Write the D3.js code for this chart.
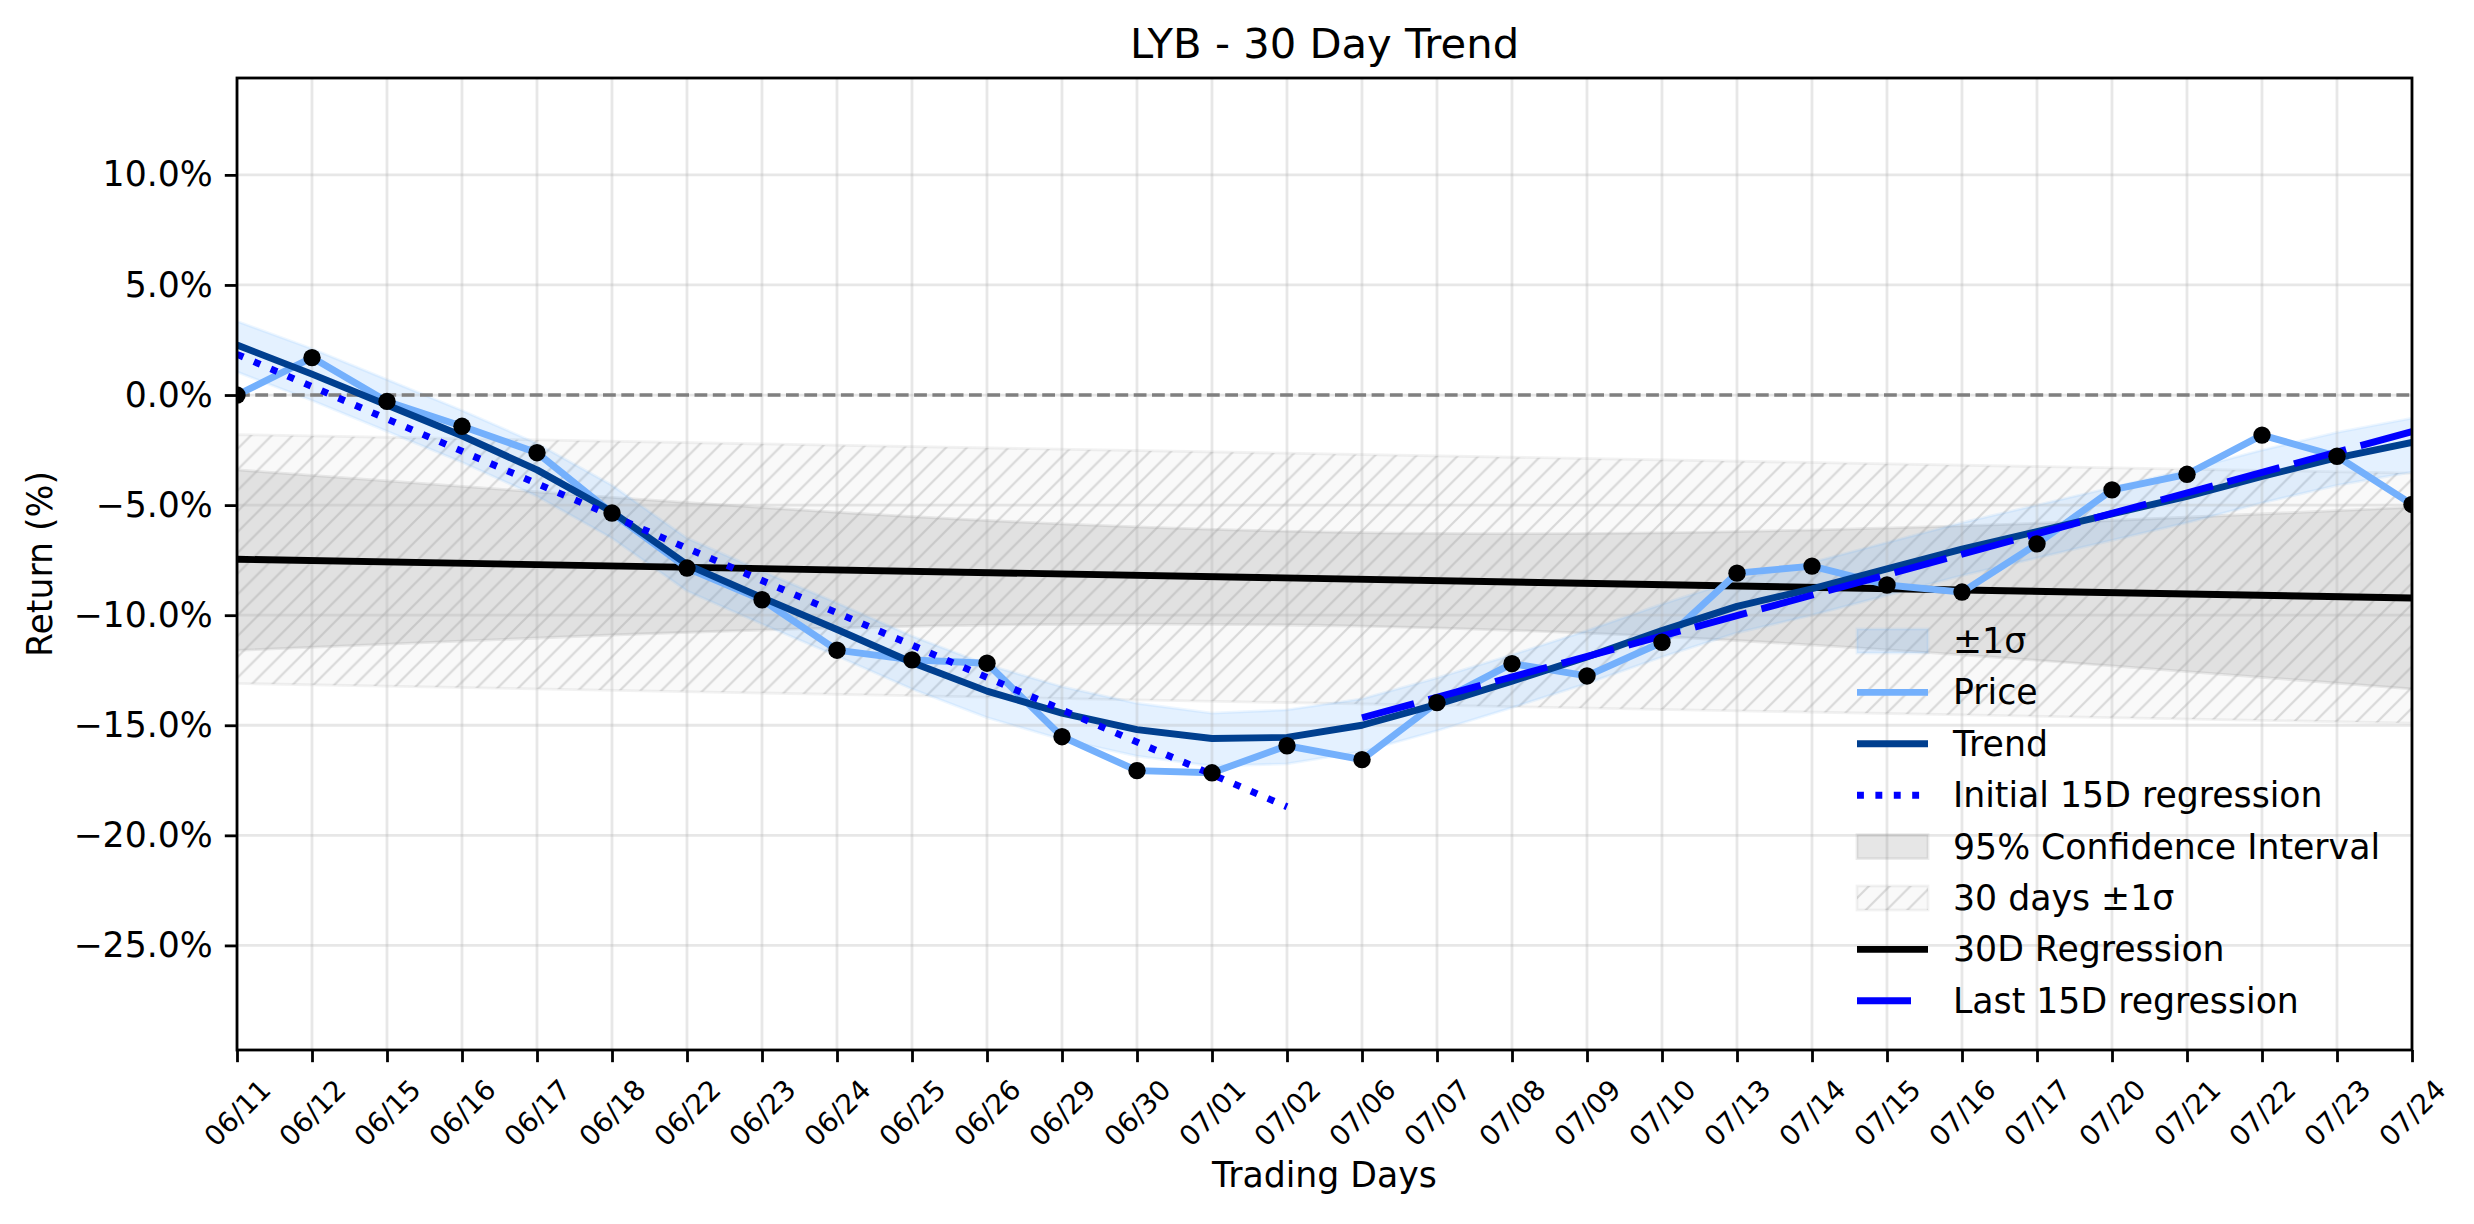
<!DOCTYPE html>
<html lang="en">
<head>
<meta charset="utf-8">
<title>LYB - 30 Day Trend</title>
<script src="https://d3js.org/d3.v7.min.js"></script>
<style>
  body { margin: 0; background: #fff; }
  svg text { font-family: "DejaVu Sans", sans-serif; fill: #000; }
</style>
</head>
<body>
<script>
// ---- data (returns in %) ----
var dates = ["06/11","06/12","06/15","06/16","06/17","06/18","06/22","06/23","06/24","06/25",
             "06/26","06/29","06/30","07/01","07/02","07/06","07/07","07/08","07/09","07/10",
             "07/13","07/14","07/15","07/16","07/17","07/20","07/21","07/22","07/23","07/24"];

var price = [0.0, 1.70, -0.29, -1.42, -2.62, -5.36, -7.86, -9.30, -11.59, -12.03,
             -12.18, -15.52, -17.06, -17.16, -15.93, -16.56, -13.97, -12.20, -12.76, -11.23,
             -8.09, -7.77, -8.63, -8.95, -6.76, -4.31, -3.60, -1.82, -2.78, -4.97];

var trend = [2.27, 0.95, -0.45, -1.85, -3.40, -5.30, -7.70, -9.20, -10.65, -12.15,
             -13.45, -14.45, -15.20, -15.60, -15.55, -15.00, -14.05, -13.00, -11.90, -10.70,
             -9.60, -8.80, -7.90, -7.00, -6.20, -5.40, -4.60, -3.70, -2.85, -2.15];

var sigmaUpper = [3.35, 2.10, 0.70, -0.70, -2.20, -4.10, -6.50, -8.00, -9.45, -10.95,
                  -12.25, -13.25, -14.00, -14.45, -14.30, -13.80, -12.85, -11.80, -10.70, -9.50,
                  -8.40, -7.60, -6.70, -5.80, -5.00, -4.20, -3.40, -2.50, -1.70, -1.05];
var sigmaLower = [1.05, -0.25, -1.65, -3.05, -4.60, -6.50, -8.90, -10.40, -11.85, -13.35,
                  -14.65, -15.65, -16.40, -16.85, -16.75, -16.20, -15.25, -14.20, -13.10, -11.90,
                  -10.80, -10.00, -9.10, -8.20, -7.40, -6.60, -5.80, -4.90, -4.10, -3.50];

// 95% confidence interval of the 30D regression
var ciIdx = [0, 5, 10, 15, 20, 25, 29];
var ciUpper = [-3.40, -4.65, -5.70, -6.25, -6.20, -5.70, -5.10];
var ciLower = [-11.60, -10.90, -10.45, -10.50, -11.15, -12.30, -13.35];

// 30 days +-1 sigma band
var bandIdx = [0, 29];
var bandUpper = [-1.80, -3.55];
var bandLower = [-13.10, -14.90];

// regressions (start/end points)
var reg30Idx = [0, 29], reg30 = [-7.46, -9.22];
var initIdx = [0, 14], initReg = [1.85, -18.70];
var lastIdx = [15, 29], lastReg = [-14.66, -1.66];

var yTicks = [10, 5, 0, -5, -10, -15, -20, -25];

var legendLabels = ["\u00b11\u03c3", "Price", "Trend", "Initial 15D regression",
                    "95% Confidence Interval", "30 days \u00b11\u03c3", "30D Regression", "Last 15D regression"];

// ---- layout ----
var W = 2474, H = 1224;
var pLeft = 237, pRight = 2412, pTop = 78, pBottom = 1050;

var svg = d3.select("body").append("svg")
    .attr("width", W).attr("height", H);

var x = d3.scaleLinear().domain([0, dates.length - 1]).range([pLeft, pRight]);
var y = d3.scaleLinear().domain([-29.75, 14.4]).range([pBottom, pTop]);

var defs = svg.append("defs");
defs.append("clipPath").attr("id", "plotclip")
  .append("rect").attr("x", pLeft).attr("y", pTop).attr("width", pRight - pLeft).attr("height", pBottom - pTop);

// hatch pattern '//'
var hs = 20.8;
var pat = defs.append("pattern").attr("id", "hatch")
    .attr("patternUnits", "userSpaceOnUse").attr("width", hs).attr("height", hs);
pat.append("path")
    .attr("d", "M0," + hs + " L" + hs + ",0 M" + (-hs / 2) + "," + (hs / 2) + " L" + (hs / 2) + "," + (-hs / 2) +
               " M" + (hs / 2) + "," + (hs * 1.5) + " L" + (hs * 1.5) + "," + (hs / 2))
    .attr("stroke", "#999").attr("stroke-opacity", 0.35).attr("stroke-width", 2.2);

var plot = svg.append("g").attr("clip-path", "url(#plotclip)");

function areaOf(idx, up, lo, curve) {
  return d3.area()
    .x(function(d) { return x(idx[d]); })
    .y0(function(d) { return y(lo[d]); })
    .y1(function(d) { return y(up[d]); })
    .curve(curve || d3.curveLinear)(d3.range(idx.length));
}
function lineOf(idx, vals) {
  return d3.line()
    .x(function(d) { return x(idx[d]); })
    .y(function(d) { return y(vals[d]); })(d3.range(idx.length));
}
var allIdx = dates.map(function(d, i) { return i; });

// 30 days band (background)
plot.append("path").attr("d", areaOf(bandIdx, bandUpper, bandLower))
  .attr("fill", "#808080").attr("fill-opacity", 0.05)
  .attr("stroke", "#808080").attr("stroke-opacity", 0.1).attr("stroke-width", 2.8);

// confidence interval
plot.append("path").attr("d", areaOf(ciIdx, ciUpper, ciLower, d3.curveNatural))
  .attr("fill", "#808080").attr("fill-opacity", 0.2)
  .attr("stroke", "#808080").attr("stroke-opacity", 0.15).attr("stroke-width", 2.8);

// hatch lines on top of band
plot.append("path").attr("d", areaOf(bandIdx, bandUpper, bandLower))
  .attr("fill", "url(#hatch)");

// +-1 sigma band around trend
plot.append("path").attr("d", areaOf(allIdx, sigmaUpper, sigmaLower))
  .attr("fill", "#4da3ff").attr("fill-opacity", 0.15)
  .attr("stroke", "#4da3ff").attr("stroke-opacity", 0.1).attr("stroke-width", 2.8);

// grid
var grid = plot.append("g");
grid.selectAll(".vg").data(allIdx).enter().append("line")
  .attr("x1", function(d) { return x(d); }).attr("x2", function(d) { return x(d); })
  .attr("y1", pTop).attr("y2", pBottom)
  .attr("stroke", "#b0b0b0").attr("stroke-opacity", 0.3).attr("stroke-width", 2.8);
grid.selectAll(".hg").data(yTicks).enter().append("line")
  .attr("x1", pLeft).attr("x2", pRight)
  .attr("y1", function(d) { return y(d); }).attr("y2", function(d) { return y(d); })
  .attr("stroke", "#b0b0b0").attr("stroke-opacity", 0.3).attr("stroke-width", 2.8);

// zero line
plot.append("line").attr("x1", pLeft).attr("x2", pRight).attr("y1", y(0)).attr("y2", y(0))
  .attr("stroke", "#808080").attr("stroke-width", 3.5).attr("stroke-dasharray", "12.8 5.5");

// 30D regression
plot.append("path").attr("d", lineOf(reg30Idx, reg30))
  .attr("fill", "none").attr("stroke", "#000").attr("stroke-width", 6.9);

// price
plot.append("path").attr("d", lineOf(allIdx, price))
  .attr("fill", "none").attr("stroke", "#74b0fc").attr("stroke-width", 6.9).attr("stroke-linejoin", "round");

// trend
plot.append("path").attr("d", lineOf(allIdx, trend))
  .attr("fill", "none").attr("stroke", "#003f8f").attr("stroke-width", 6.9).attr("stroke-linejoin", "round");

// initial 15D regression (dotted)
plot.append("path").attr("d", lineOf(initIdx, initReg))
  .attr("fill", "none").attr("stroke", "#0000ff").attr("stroke-width", 6.9).attr("stroke-dasharray", "6.9 11.5");

// last 15D regression (dashed)
plot.append("path").attr("d", lineOf(lastIdx, lastReg))
  .attr("fill", "none").attr("stroke", "#0000ff").attr("stroke-width", 6.9).attr("stroke-dasharray", "54 15");

// price dots
plot.selectAll(".dot").data(allIdx).enter().append("circle")
  .attr("cx", function(d) { return x(d); })
  .attr("cy", function(d) { return y(price[d]); })
  .attr("r", 8.7).attr("fill", "#000");

// axes
var yAxis = svg.append("g").attr("transform", "translate(" + pLeft + ",0)")
  .call(d3.axisLeft(y).tickValues(yTicks).tickSize(12.2).tickPadding(12)
        .tickFormat(function(d) { return d3.format(".1f")(d) + "%"; }));
yAxis.select(".domain").remove();
yAxis.selectAll("line").attr("stroke", "#000").attr("stroke-width", 2.8);
yAxis.selectAll("text").style("font-size", "34.7px").attr("font-family", null);

var xAxis = svg.append("g").attr("transform", "translate(0," + pBottom + ")")
  .call(d3.axisBottom(x).tickValues(allIdx).tickSize(12.2)
        .tickFormat(function(d) { return dates[d]; }));
xAxis.select(".domain").remove();
xAxis.selectAll("line").attr("stroke", "#000").attr("stroke-width", 2.8);
xAxis.selectAll("text")
  .attr("y", null).attr("dy", null)
  .attr("text-anchor", "middle").attr("dominant-baseline", "central")
  .attr("transform", "translate(0,63) rotate(-45)")
  .style("font-size", "27.8px").attr("font-family", null);

// spines
svg.append("rect").attr("x", pLeft).attr("y", pTop).attr("width", pRight - pLeft).attr("height", pBottom - pTop)
  .attr("fill", "none").attr("stroke", "#000").attr("stroke-width", 2.8);

// titles
svg.append("text").attr("x", (pLeft + pRight) / 2).attr("y", 58)
  .attr("text-anchor", "middle").style("font-size", "41.7px").text("LYB - 30 Day Trend");
svg.append("text").attr("x", (pLeft + pRight) / 2).attr("y", 1187)
  .attr("text-anchor", "middle").style("font-size", "34.7px").text("Trading Days");
svg.append("text").attr("transform", "translate(40," + ((pTop + pBottom) / 2) + ") rotate(-90)")
  .attr("text-anchor", "middle").attr("dominant-baseline", "central")
  .style("font-size", "34.7px").text("Return (%)");

// legend
var lg = svg.append("g").attr("transform", "translate(1857,641)");
var rowH = 51.4, hw = 71;
legendLabels.forEach(function(label, i) {
  var g = lg.append("g").attr("transform", "translate(0," + (i * rowH) + ")");
  if (i === 0) {
    g.append("rect").attr("x", 0).attr("y", -12).attr("width", hw).attr("height", 24)
      .attr("fill", "#4da3ff").attr("fill-opacity", 0.15)
      .attr("stroke", "#4da3ff").attr("stroke-opacity", 0.1).attr("stroke-width", 2.8);
  } else if (i === 4) {
    g.append("rect").attr("x", 0).attr("y", -12).attr("width", hw).attr("height", 24)
      .attr("fill", "#808080").attr("fill-opacity", 0.2)
      .attr("stroke", "#808080").attr("stroke-opacity", 0.15).attr("stroke-width", 2.8);
  } else if (i === 5) {
    g.append("rect").attr("x", 0).attr("y", -12).attr("width", hw).attr("height", 24)
      .attr("fill", "#808080").attr("fill-opacity", 0.05)
      .attr("stroke", "#808080").attr("stroke-opacity", 0.1).attr("stroke-width", 2.8);
    g.append("rect").attr("x", 0).attr("y", -12).attr("width", hw).attr("height", 24)
      .attr("fill", "url(#hatch)");
  } else {
    var styles = {
      1: {c: "#74b0fc", d: null},
      2: {c: "#003f8f", d: null},
      3: {c: "#0000ff", d: "6.9 11.5"},
      6: {c: "#000", d: null},
      7: {c: "#0000ff", d: "54 17"}
    }[i];
    g.append("line").attr("x1", 0).attr("x2", hw).attr("y1", 0).attr("y2", 0)
      .attr("stroke", styles.c).attr("stroke-width", 6.9).attr("stroke-dasharray", styles.d);
  }
  g.append("text").attr("x", 96).attr("y", 0).attr("dominant-baseline", "central")
    .style("font-size", "34.7px").text(label);
});
</script>
</body>
</html>
